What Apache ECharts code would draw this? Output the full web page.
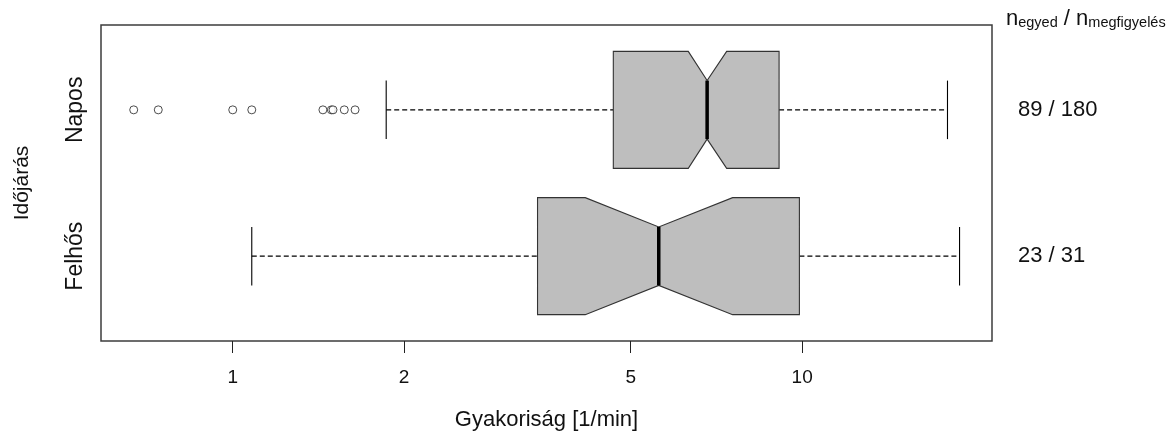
<!DOCTYPE html>
<html>
<head>
<meta charset="utf-8">
<script src="https://cdn.jsdelivr.net/npm/echarts@6/dist/echarts.min.js"></script>
<style>
  html, body { margin: 0; padding: 0; background: #fff; }
  #chart { width: 1170px; height: 434px; }
</style>
</head>
<body>
<div id="chart"></div>
<script>
// Weather groups, bottom to top
const categories = ['Felhős', 'Napos'];

// Notched box statistics per group (frequency, 1/min)
const whiskerLow  = [1.08, 1.86];
const q1          = [3.43, 4.66];
const notchLow    = [4.16, 6.31];
const median      = [5.60, 6.81];
const notchHigh   = [7.55, 7.37];
const q3          = [9.89, 9.11];
const whiskerHigh = [18.9, 18.0];

// Outlying observations (only the sunny group has them)
const outliersFelhos = [];
const outliersNapos = [0.67, 0.74, 1.00, 1.08, 1.44, 1.49, 1.50, 1.57, 1.64];

// Sample sizes: individuals / observations
const nEgyed = [23, 89];
const nMegfigyeles = [31, 180];

// Frequency axis ticks
const xTicks = [1, 2, 5, 10];

const FONT = "'Liberation Sans', Arial, sans-serif";

const boxData = categories.map((c, i) => [
  i + 1, whiskerLow[i], q1[i], notchLow[i], median[i], notchHigh[i], q3[i], whiskerHigh[i]
]);

const outlierData = [];
[outliersFelhos, outliersNapos].forEach((arr, i) => {
  arr.forEach(v => outlierData.push([v, i + 1]));
});

const HALF = 0.4;   // half box thickness (axis units)
const NOTCH = 0.2;  // half thickness at the median / whisker caps

function renderBox(params, api) {
  const y = api.value(0);
  const wl = api.value(1), b1 = api.value(2), nl = api.value(3), md = api.value(4),
        nh = api.value(5), b3 = api.value(6), wh = api.value(7);
  const pt = (xv, dy) => api.coord([xv, y + dy]);
  const dash = { stroke: '#000', lineWidth: 1.1, lineDash: [5, 3], fill: null };
  const solid = { stroke: '#000', lineWidth: 1.1, fill: null };
  const line = (a, b, style) => ({
    type: 'line',
    shape: { x1: a[0], y1: a[1], x2: b[0], y2: b[1] },
    style: style
  });
  const poly = [
    pt(b1, HALF), pt(nl, HALF), pt(md, NOTCH), pt(nh, HALF), pt(b3, HALF),
    pt(b3, -HALF), pt(nh, -HALF), pt(md, -NOTCH), pt(nl, -HALF), pt(b1, -HALF)
  ];
  return {
    type: 'group',
    children: [
      line(pt(wl, 0), pt(b1, 0), dash),
      line(pt(b3, 0), pt(wh, 0), dash),
      line(pt(wl, -NOTCH), pt(wl, NOTCH), solid),
      line(pt(wh, -NOTCH), pt(wh, NOTCH), solid),
      {
        type: 'polygon',
        shape: { points: poly },
        style: { fill: '#bebebe', stroke: '#333', lineWidth: 1.1 }
      },
      line(pt(md, -NOTCH), pt(md, NOTCH), { stroke: '#000', lineWidth: 3.5 })
    ]
  };
}

const chart = echarts.init(document.getElementById('chart'), null, { renderer: 'canvas' });

const yBase = {
  type: 'value',
  min: 0.42,
  max: 2.58,
  axisLine: { show: false, onZero: false },
  axisTick: { show: false },
  splitLine: { show: false }
};

chart.setOption({
  animation: false,
  backgroundColor: '#fff',
  grid: {
    left: 101, right: 178, top: 25, bottom: 93,
    show: true, borderColor: '#3c3c3c', borderWidth: 1.5,
    outerBoundsMode: 'none'
  },
  xAxis: {
    type: 'log',
    logBase: 10,
    min: 0.587,
    max: 21.55,
    axisLine: { show: false, onZero: false },
    splitLine: { show: false },
    axisTick: {
      show: true, customValues: xTicks, length: 12, inside: false,
      lineStyle: { color: '#222', width: 1 }
    },
    axisLabel: {
      customValues: xTicks,
      formatter: v => String(v),
      fontFamily: FONT, fontSize: 19, color: '#111', margin: 27
    },
    name: 'Gyakoriság [1/min]',
    nameLocation: 'middle',
    nameGap: 68,
    nameTextStyle: { fontFamily: FONT, fontSize: 22, color: '#111' }
  },
  yAxis: [
    Object.assign({}, yBase, {
      position: 'left',
      axisLabel: {
        customValues: [1, 2],
        formatter: v => categories[Math.round(v) - 1],
        rotate: 90,
        fontFamily: FONT, fontSize: 23, color: '#111', margin: 14
      },
      name: 'Időjárás',
      nameLocation: 'middle',
      nameGap: 68,
      nameRotate: 90,
      nameTextStyle: { fontFamily: FONT, fontSize: 21, color: '#111' }
    }),
    Object.assign({}, yBase, {
      position: 'right',
      axisLabel: {
        customValues: [1, 2],
        formatter: v => {
          const i = Math.round(v) - 1;
          return nEgyed[i] + ' / ' + nMegfigyeles[i];
        },
        fontFamily: FONT, fontSize: 22, color: '#111', margin: 26
      }
    })
  ],
  graphic: [{
    type: 'text',
    left: 1006,
    top: 8,
    style: {
      text: '{n|n}{s|egyed}{n| / n}{s|megfigyelés}',
      rich: {
        n: { fontFamily: FONT, fontSize: 22, lineHeight: 22, padding: [0, 0, 4, 0],
             verticalAlign: 'top', fill: '#111' },
        s: { fontFamily: FONT, fontSize: 14.5, lineHeight: 15, verticalAlign: 'bottom', fill: '#111' }
      }
    }
  }],
  series: [
    {
      type: 'custom',
      name: 'box',
      xAxisIndex: 0,
      yAxisIndex: 0,
      renderItem: renderBox,
      encode: { x: [1, 2, 3, 4, 5, 6, 7], y: 0 },
      data: boxData,
      z: 2
    },
    {
      type: 'scatter',
      name: 'outliers',
      xAxisIndex: 0,
      yAxisIndex: 0,
      symbol: 'circle',
      symbolSize: 8,
      itemStyle: { color: '#fff', borderColor: '#222', borderWidth: 1 },
      data: outlierData,
      z: 3
    }
  ]
});
</script>
</body>
</html>
